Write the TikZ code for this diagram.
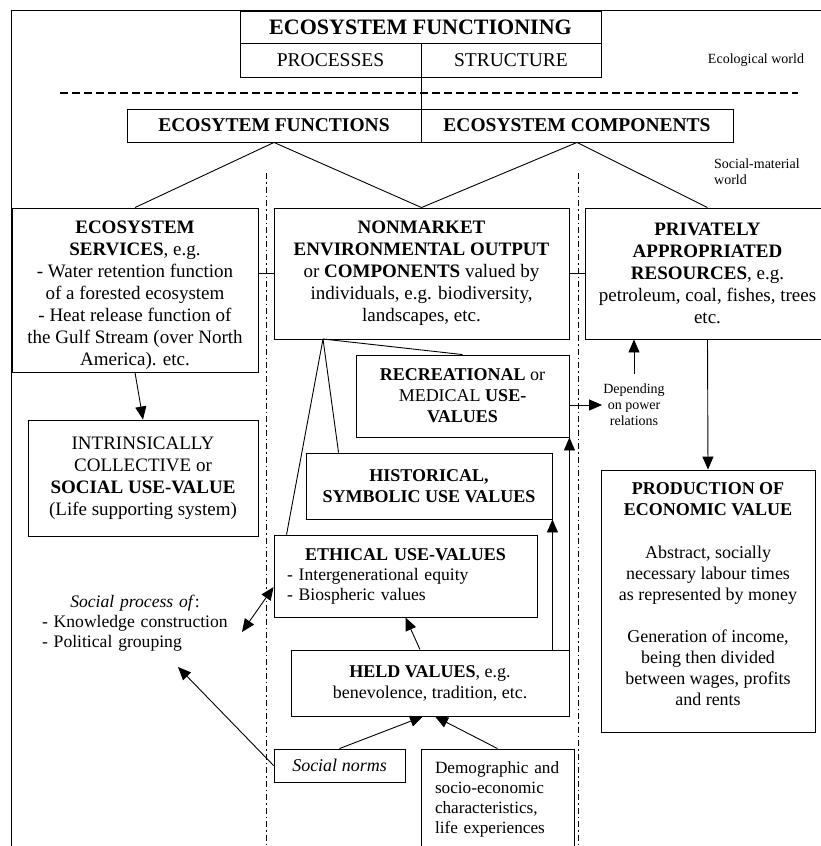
\documentclass[tikz,border=0pt]{standalone}
\usepackage{fontspec}
\setmainfont{Liberation Serif}
\usetikzlibrary{arrows.meta,calc}

\newcommand\headfont{\fontsize{22}{24}\selectfont\bfseries}
\newcommand\bigfont{\fontsize{19}{22}\selectfont}
\newcommand\midfont{\fontsize{18}{21}\selectfont}
\newcommand\lowfont{\fontsize{17.2}{20}\selectfont}
\newcommand\listfont{\fontsize{17.6}{20}\selectfont}
\newcommand\notefont{\fontsize{14}{16}\selectfont}

\begin{document}
\begin{tikzpicture}[x=1pt, y=-1pt,
  box/.style={draw, line width=0.9pt, inner sep=0pt, align=center, font=\bigfont},
  midbox/.style={box, font=\midfont},
  note/.style={inner sep=1pt, align=center, font=\notefont},
  link/.style={line width=0.9pt},
  arr/.style={-{Triangle[length=13pt,width=11pt]}, line width=0.9pt},
  divider/.style={line width=0.9pt, dash pattern=on 6pt off 3pt on 1.5pt off 3pt}]

\useasboundingbox (0,0) rectangle (821,846);
\clip (0,0) rectangle (821,846);

% Frame
\draw[link] (821,10) -- (11,10) -- (11,846);

% Ecological world
\node[box, font=\headfont, minimum width=361, minimum height=31.5] (efun) at (420.5,27.5) {ECOSYSTEM FUNCTIONING};
\node[box, font=\fontsize{19.5}{22}\selectfont, minimum width=181, minimum height=33.5] (procs) at (330.5,60.25) {PROCESSES};
\node[box, font=\fontsize{19.5}{22}\selectfont, minimum width=180, minimum height=33.5] (struc) at (511,60.25) {STRUCTURE};
\node[note] (ecow) at (756,60) {Ecological world};

\draw[line width=1.5pt, dash pattern=on 8pt off 4pt] (60,93) -- (798,93);

\node[box, font=\fontsize{19.5}{22}\selectfont\bfseries, minimum width=294, minimum height=33] (efns) at (274,125.5) {ECOSYTEM FUNCTIONS};
\node[box, font=\fontsize{19.5}{22}\selectfont\bfseries, minimum width=312, minimum height=33] (ecomp) at (577,125.5) {ECOSYSTEM COMPONENTS};
\draw[link] (procs.south east) -- (efns.north east);

% Social-material world
\node[note, anchor=west, align=left] (socw) at (713,172) {Social-material\\world};

\draw[divider] (266,173) -- (266,846);
\draw[divider] (578,173) -- (578,846);

% Three kinds of output
\node[box, minimum width=246, minimum height=164] (serv) at (135,290) {\rule{0pt}{24pt}\textbf{ECOSYSTEM}\\\textbf{SERVICES}, e.g.\\- Water retention function\\of a forested ecosystem\\- Heat release function of\\the Gulf Stream (over North\\America). etc.};
\node[box, minimum width=295, minimum height=131] (nonm) at (421.5,273.5) {\textbf{NONMARKET}\\\textbf{ENVIRONMENTAL OUTPUT}\\or \textbf{COMPONENTS} valued by\\individuals, e.g. biodiversity,\\landscapes, etc.};
\node[box, minimum width=245, minimum height=131] (priv) at (707.5,273.5) {\textbf{PRIVATELY}\\\textbf{APPROPRIATED}\\\textbf{RESOURCES}, e.g.\\petroleum, coal, fishes, trees\\etc.};

\draw[link] (efns.south) -- (serv.north);
\draw[link] (efns.south) -- (nonm.north);
\draw[link] (ecomp.south) -- (nonm.north);
\draw[link] (ecomp.south) -- (priv.north);
\draw[link] (nonm.west) -- (nonm.west -| serv.east);
\draw[link] (nonm.east) -- (nonm.east -| priv.west);

% Left column
\node[box, minimum width=230, minimum height=116] (intr) at (143,478) {INTRINSICALLY\\COLLECTIVE or\\\textbf{SOCIAL USE-VALUE}\\(Life supporting system)};
\draw[arr] (serv.south) -- (intr.north);

\node[align=left, text width=186, inner sep=0pt, font=\listfont] (socproc) at (135,623) {{\centering\textit{Social process of}:\par}- Knowledge construction\\- Political grouping};
\coordinate (procend) at (242,632);
\coordinate (procfoot) at (178,667);

% Middle column
\coordinate (nmfoot) at (323,339);
\node[midbox, minimum width=213, minimum height=82] (recr) at (462.5,396) {\textbf{RECREATIONAL} or\\MEDICAL \textbf{USE-}\\\textbf{VALUES}};
\node[midbox, font=\midfont\bfseries, minimum width=246, minimum height=66] (hist) at (429,486) {HISTORICAL,\\SYMBOLIC USE VALUES};
\node[box, font=\listfont, align=left, text width=237, minimum width=263, minimum height=82] (ethic) at (405.5,576) {{\centering\fontsize{18}{20.5}\selectfont\textbf{ETHICAL USE-VALUES}\par}- Intergenerational equity\\- Biospheric values};
\node[midbox, minimum width=278, minimum height=66] (held) at (430,683) {\textbf{HELD VALUES}, e.g.\\benevolence, tradition, etc.};
\node[midbox, font=\midfont\itshape, minimum width=131, minimum height=33] (norms) at (339.5,765.5) {Social norms};
\node[box, font=\lowfont, align=left, text width=125, minimum width=153, minimum height=100] (demo) at (497.5,799) {Demographic and\\socio-economic\\characteristics,\\life experiences};

\draw[link] (nmfoot) -- (recr.north);
\draw[link] (nmfoot) -- ([xshift=33pt]hist.north west);
\draw[link] (nmfoot) -- ([xshift=13pt]ethic.north west);

\draw[arr] ([xshift=-10pt]held.north) -- (ethic.south);
\draw[arr] (held.north -| hist.south east) -- (hist.south east);
\draw[arr] (held.north east) -- (recr.south east);
\draw[arr] (norms.north) -- ([xshift=-7pt]held.south);
\draw[arr] (demo.north) -- ([xshift=5pt]held.south);
\draw[arr] (norms.west) -- (procfoot);
\draw[{Triangle[length=13pt,width=11pt]}-{Triangle[length=13pt,width=11pt]}, line width=0.9pt] (procend) -- ([yshift=-11pt]ethic.west);

% Right column
\node[note] (power) at (634,405) {Depending\\on power\\relations};
\draw[arr] (recr.east |- power.west) -- (power.west);
\draw[arr] ([yshift=9pt]power.north) -- (power.north |- priv.south);

\node[box, minimum width=214, minimum height=262] (prod) at (708,601) {};
\node[align=center, inner sep=0pt, font=\midfont] (prodtext) at (708,594) {\textbf{PRODUCTION OF}\\\textbf{ECONOMIC VALUE}\\[22pt]Abstract, socially\\necessary labour times\\as represented by money\\[21pt]Generation of income,\\being then divided\\between wages, profits\\and rents};
\draw[arr] (priv.south) -- (prod.north);

\end{tikzpicture}
\end{document}
